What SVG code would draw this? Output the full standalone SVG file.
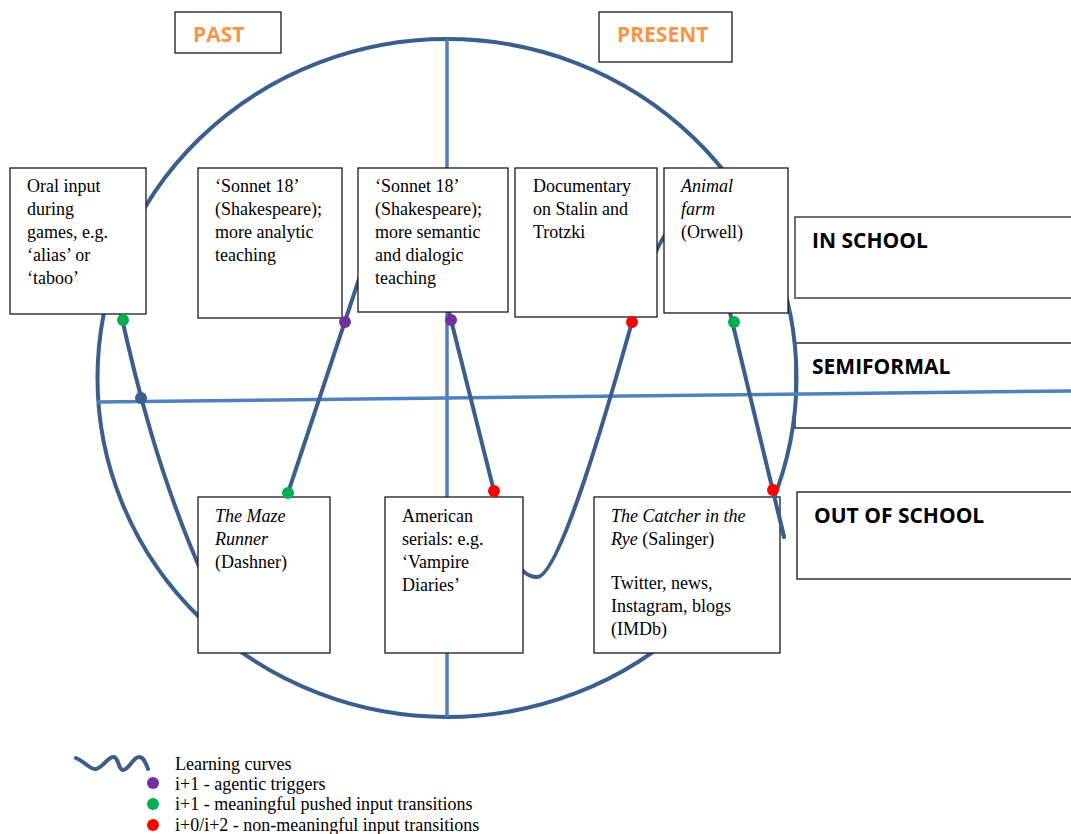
<svg xmlns="http://www.w3.org/2000/svg" width="1071" height="834" viewBox="0 0 1071 834">
<style>
.bg{fill:#fff}
.box{fill:#fff;stroke:#1a1a1a;stroke-width:1.3}
.t{font-family:"Liberation Serif","Times New Roman",serif;font-size:18px;fill:#000}
.i{font-style:italic}
.lbl{font-family:"Open Sans","Liberation Sans",sans-serif;font-weight:bold;font-size:21px;fill:#000}
.or{fill:#f79646}
.circ{fill:none;stroke:#3a5f8f;stroke-width:4}
.axis{fill:none;stroke:#4f81bd;stroke-width:3.5}
.curve{fill:none;stroke:#3b5e8c;stroke-width:4;stroke-linecap:round;stroke-linejoin:round}
.pu{fill:#7030a0}.gr{fill:#00b050}.rd{fill:#ff0000}.db{fill:#3b5e8c}
</style>
<rect class="bg" x="0" y="0" width="1071" height="834"/>

<g id="past">
<rect class="box" x="175" y="12" width="106" height="41"/>
<text class="lbl or" x="193" y="42">PAST</text>
</g>
<g id="present">
<rect class="box" x="599" y="12" width="133" height="50"/>
<text class="lbl or" x="617" y="42">PRESENT</text>
</g>

<g id="in-school">
<rect x="795" y="217" width="285" height="81" fill="#fff" stroke="#707070" stroke-width="2"/>
<text class="lbl" x="812" y="248">IN SCHOOL</text>
</g>
<g id="semiformal">
<rect x="795" y="343" width="285" height="85" fill="#fff" stroke="#111" stroke-width="1.3"/>
<text class="lbl" x="812" y="374">SEMIFORMAL</text>
</g>
<g id="out-of-school">
<rect x="797" y="492" width="285" height="87" fill="#fff" stroke="#333" stroke-width="1.5"/>
<text class="lbl" x="814" y="523">OUT OF SCHOOL</text>
</g>

<g id="connectors">
<ellipse class="circ" cx="447" cy="378" rx="349.5" ry="339"/>
<line class="axis" x1="447" y1="39" x2="447" y2="717"/>
<line class="axis" x1="97" y1="402" x2="1071" y2="391"/>
<path class="curve" d="M118,300 C135,380 160,480 205,580 Q240,640 279,520 L362,270 Q400,200 443.5,290 L500,515 C508,550 518,577 537,577 C560,577 610,400 632,322 C640,294 650,258 665,235 C690,180 715,250 727,300 L784,537"/>
</g>

<g id="oral">
<rect class="box" x="10" y="168" width="136" height="146"/>
<text class="t"><tspan x="27" y="192">Oral input</tspan><tspan x="27" y="215">during</tspan><tspan x="27" y="238">games, e.g.</tspan><tspan x="27" y="261">‘alias’ or</tspan><tspan x="27" y="284">‘taboo’</tspan></text>
</g>
<g id="sonnet-analytic">
<rect class="box" x="198" y="168" width="144" height="150"/>
<text class="t"><tspan x="215" y="192">‘Sonnet 18’</tspan><tspan x="215" y="215">(Shakespeare);</tspan><tspan x="215" y="238">more analytic</tspan><tspan x="215" y="261">teaching</tspan></text>
</g>
<g id="sonnet-semantic">
<rect class="box" x="358" y="168" width="150" height="144"/>
<text class="t"><tspan x="375" y="192">‘Sonnet 18’</tspan><tspan x="375" y="215">(Shakespeare);</tspan><tspan x="375" y="238">more semantic</tspan><tspan x="375" y="261">and dialogic</tspan><tspan x="375" y="284">teaching</tspan></text>
</g>
<g id="documentary">
<rect class="box" x="515" y="168" width="142" height="149"/>
<text class="t"><tspan x="533" y="192">Documentary</tspan><tspan x="533" y="215">on Stalin and</tspan><tspan x="533" y="238">Trotzki</tspan></text>
</g>
<g id="animal-farm">
<rect class="box" x="664" y="168" width="124" height="145"/>
<text class="t"><tspan class="i" x="681" y="192">Animal</tspan><tspan class="i" x="681" y="215">farm</tspan><tspan x="681" y="238">(Orwell)</tspan></text>
</g>
<g id="maze-runner">
<rect class="box" x="198" y="497" width="132" height="156"/>
<text class="t"><tspan class="i" x="215" y="522">The Maze</tspan><tspan class="i" x="215" y="545">Runner</tspan><tspan x="215" y="568">(Dashner)</tspan></text>
</g>
<g id="american-serials">
<rect class="box" x="385" y="497" width="138" height="156"/>
<text class="t"><tspan x="402" y="522">American</tspan><tspan x="402" y="545">serials: e.g.</tspan><tspan x="402" y="568">‘Vampire</tspan><tspan x="402" y="591">Diaries’</tspan></text>
</g>
<g id="catcher">
<rect class="box" x="594" y="497" width="186" height="156"/>
<text class="t"><tspan class="i" x="611" y="522">The Catcher in the</tspan><tspan class="i" x="611" y="545">Rye</tspan><tspan> (Salinger)</tspan><tspan x="611" y="589">Twitter, news,</tspan><tspan x="611" y="612">Instagram, blogs</tspan><tspan x="611" y="635">(IMDb)</tspan></text>
</g>

<g id="curve-tail">
<path class="curve" d="M772,487 L784,537"/>
</g>

<g id="transition-dots">
<circle class="gr" cx="123" cy="320" r="6"/>
<circle class="db" cx="141" cy="398" r="6"/>
<circle class="pu" cx="345" cy="322" r="6"/>
<circle class="pu" cx="451" cy="320" r="6"/>
<circle class="gr" cx="288" cy="493" r="6"/>
<circle class="rd" cx="494" cy="491" r="6"/>
<circle class="rd" cx="632" cy="322" r="6"/>
<circle class="gr" cx="734" cy="322" r="6"/>
<circle class="rd" cx="773" cy="490" r="6"/>
</g>

<g id="legend">
<path class="curve" d="M76,758 C86,762 90,770 96,769 C104,767 108,756 114,757 C119,758 118,770 123,770 C129,770 133,757 139,757 C144,757 146,764 148,769"/>
<circle class="pu" cx="153" cy="783" r="6"/>
<circle class="gr" cx="153" cy="804" r="6"/>
<circle class="rd" cx="153" cy="825" r="6"/>
<text class="t" x="175" y="770">Learning curves</text>
<text class="t" x="175" y="790">i+1 - agentic triggers</text>
<text class="t" x="175" y="810">i+1 - meaningful pushed input transitions</text>
<text class="t" x="175" y="830.5">i+0/i+2 - non-meaningful input transitions</text>
</g>
</svg>
